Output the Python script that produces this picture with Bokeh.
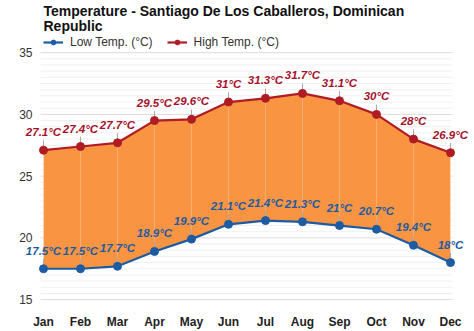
from bokeh.plotting import figure
from bokeh.models import (ColumnDataSource, Range1d, FixedTicker, Label, Legend, LegendItem)
from bokeh.embed import file_html
from bokeh.resources import INLINE
from bokeh.core.properties import value

months = ["Jan", "Feb", "Mar", "Apr", "May", "Jun", "Jul", "Aug", "Sep", "Oct", "Nov", "Dec"]
high = [27.1, 27.4, 27.7, 29.5, 29.6, 31.0, 31.3, 31.7, 31.1, 30.0, 28.0, 26.9]
low = [17.5, 17.5, 17.7, 18.9, 19.9, 21.1, 21.4, 21.3, 21.0, 20.7, 19.4, 18.0]
high_labels = ["27.1°C", "27.4°C", "27.7°C", "29.5°C", "29.6°C", "31°C", "31.3°C", "31.7°C", "31.1°C", "30°C", "28°C", "26.9°C"]
low_labels = ["17.5°C", "17.5°C", "17.7°C", "18.9°C", "19.9°C", "21.1°C", "21.4°C", "21.3°C", "21°C", "20.7°C", "19.4°C", "18°C"]
y_ticks = [15, 20, 25, 30, 35]
y_tick_labels = ["15", "20", "25", "30", "35"]

FONT = "Liberation Sans"
RED = "#b01c24"
BLUE = "#1d5ca3"
FILL = "#f99442"

# geometry (pixels)
W, H = 474, 331
BOTTOM = 19
FRAME_H = H - BOTTOM          # 312
PLOT_TOP = 53                 # pixel of y=35
PLOT_BOT = 304                # pixel of y=15
PX_Y = (PLOT_BOT - PLOT_TOP) / 20.0
PX_X = 37.0
X0 = 43.0

y_lo = 15.0 - (FRAME_H - PLOT_BOT) / PX_Y
y_hi = 35.0 + PLOT_TOP / PX_Y
x_lo = -X0 / PX_X
x_hi = (W - X0) / PX_X
grid_x0 = -3 / PX_X
grid_x1 = 11 + 2 / PX_X
lab_x = -11 / PX_X

x = list(range(len(months)))
lead = 10 / PX_Y

src = ColumnDataSource(dict(
    x=x, high=high, low=low, hl=high_labels, ll=low_labels,
    high_top=[h + lead for h in high], low_top=[l + lead for l in low],
))

p = figure(width=W, height=H, output_backend="svg", toolbar_location=None,
           x_range=Range1d(x_lo, x_hi), y_range=Range1d(y_lo, y_hi),
           min_border_left=0, min_border_right=0, min_border_top=0, min_border_bottom=BOTTOM,
           title=None)
p.outline_line_color = None
p.background_fill_color = "white"
p.border_fill_color = "white"
p.xgrid.visible = False
p.ygrid.visible = False
p.yaxis.visible = False

# gridlines (minor every 0.5, major every 5)
minor = [15 + 0.5 * i for i in range(41) if (15 + 0.5 * i) not in y_ticks]
p.segment(x0=[grid_x0] * len(minor), y0=minor, x1=[grid_x1] * len(minor), y1=minor,
          line_color="#f0f0f0", line_width=1)
p.segment(x0=[grid_x0] * len(y_ticks), y0=y_ticks, x1=[grid_x1] * len(y_ticks), y1=y_ticks,
          line_color="#dcdcdc", line_width=1)
p.text(x=[lab_x] * len(y_ticks), y=y_ticks, text=y_tick_labels, text_font=value(FONT),
       text_font_size="12px", text_color="#333333", text_align="right", text_baseline="middle")

# x axis
p.xaxis.ticker = FixedTicker(ticks=x)
p.xaxis.major_label_overrides = {i: m for i, m in enumerate(months)}
p.xaxis.axis_line_color = None
p.xaxis.major_tick_line_color = None
p.xaxis.minor_tick_line_color = None
p.xaxis.major_label_text_font = FONT
p.xaxis.major_label_text_font_size = "12px"
p.xaxis.major_label_text_font_style = "bold"
p.xaxis.major_label_text_color = "#222222"
p.xaxis.major_label_standoff = 1

# fill between
p.varea(x="x", y1="low", y2="high", source=src, fill_color=FILL, fill_alpha=1.0)
p.segment(x0="x", y0="low", x1="x", y1="high", source=src, line_color="white", line_alpha=0.25, line_width=1)
# leader lines
p.segment(x0="x", y0="high", x1="x", y1="high_top", source=src, line_color="#aaaaaa", line_width=1)
p.segment(x0="x", y0="low", x1="x", y1="low_top", source=src, line_color="#aaaaaa", line_width=1)

lh = p.line(x="x", y="high", source=src, line_color=RED, line_width=2.2)
ch = p.scatter(x="x", y="high", source=src, size=8, fill_color=RED, line_color=RED)
ll = p.line(x="x", y="low", source=src, line_color=BLUE, line_width=2.2)
cl = p.scatter(x="x", y="low", source=src, size=8, fill_color=BLUE, line_color=BLUE)

p.text(x="x", y="high", text="hl", source=src, text_font=value(FONT), text_font_size="11.5px",
       text_font_style="bold italic", text_color="#a5122c", text_align="center",
       text_baseline="middle", y_offset=-18)
p.text(x="x", y="low", text="ll", source=src, text_font=value(FONT), text_font_size="11.5px",
       text_font_style="bold italic", text_color=BLUE, text_align="center",
       text_baseline="middle", y_offset=-18)

# title
p.add_layout(Label(x=43, y=FRAME_H - 15, x_units="screen", y_units="screen",
                   text="Temperature - Santiago De Los Caballeros, Dominican",
                   text_font=FONT, text_font_size="14px", text_font_style="bold",
                   text_color="#111111", text_baseline="alphabetic"))
p.add_layout(Label(x=43, y=FRAME_H - 30, x_units="screen", y_units="screen",
                   text="Republic",
                   text_font=FONT, text_font_size="14px", text_font_style="bold",
                   text_color="#111111", text_baseline="alphabetic"))

legend = Legend(items=[LegendItem(label="Low Temp. (°C)", renderers=[ll, cl]),
                       LegendItem(label="High Temp. (°C)", renderers=[lh, ch])],
                orientation="horizontal", location=(43, FRAME_H - 54),
                label_text_font=FONT, label_text_font_size="12px", label_text_color="#333333",
                glyph_width=20, glyph_height=12, spacing=14, padding=0, margin=0,
                label_standoff=7, background_fill_alpha=0, border_line_color=None,
                label_height=12)
p.add_layout(legend)

open("out.html", "w").write(file_html(p, INLINE))
